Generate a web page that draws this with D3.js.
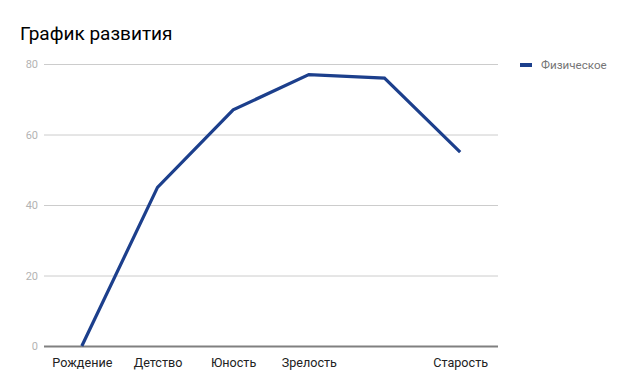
<!DOCTYPE html>
<html>
<head>
<meta charset="utf-8">
<script src="https://cdn.jsdelivr.net/npm/d3@7"></script>
<style>
  body { margin: 0; background: #fff; }
  text { font-family: Roboto, "Noto Sans", sans-serif; }
</style>
</head>
<body>
<div id="chart"></div>
<script>
var categories = ['Рождение', 'Детство', 'Юность', 'Зрелость', '', 'Старость'];
var physical = [0, 45, 67, 77, 76, 55];
var yTicks = [0, 20, 40, 60, 80];
var seriesName = 'Физическое';

var width = 628, height = 389;
// plot area (avoid "top", it clashes with window.top)
var plotLeft = 44, plotRight = 498, plotTop = 64, plotBottom = 346;

var svg = d3.select('#chart').append('svg')
    .attr('width', width).attr('height', height);

var x = d3.scalePoint()
    .domain(d3.range(categories.length))
    .range([plotLeft, plotRight])
    .padding(0.5);

var y = d3.scaleLinear()
    .domain([0, 80])
    .range([plotBottom, plotTop]);

// title
svg.append('text')
    .attr('x', 20).attr('y', 40)
    .attr('font-size', 19)
    .attr('fill', '#000')
    .text('График развития');

// gridlines + y labels
var yAxis = svg.append('g')
    .attr('transform', 'translate(' + plotLeft + ',0)')
    .call(d3.axisLeft(y).tickValues(yTicks).tickSize(-(plotRight - plotLeft)).tickPadding(6));
yAxis.select('.domain').remove();
yAxis.selectAll('line')
    .attr('stroke', function(d){ return d === 0 ? '#808080' : '#cccccc'; })
    .attr('stroke-width', function(d){ return d === 0 ? 2 : 1; });
yAxis.selectAll('text')
    .attr('fill', '#b3b3b3')
    .attr('font-size', 11)
    .style('font-family', 'Roboto, sans-serif');

// x labels
var xAxis = svg.append('g')
    .attr('transform', 'translate(0,' + plotBottom + ')')
    .call(d3.axisBottom(x).tickSize(0).tickPadding(12)
        .tickFormat(function(i){ return categories[i]; }));
xAxis.select('.domain').remove();
xAxis.selectAll('text')
    .attr('fill', '#222')
    .attr('font-size', 12.6)
    .style('font-family', 'Roboto, sans-serif');

// line
var line = d3.line()
    .x(function(d, i){ return x(i); })
    .y(function(d){ return y(d); });

svg.append('path')
    .datum(physical)
    .attr('fill', 'none')
    .attr('stroke', '#1c3f8c')
    .attr('stroke-width', 3.2)
    .attr('stroke-linejoin', 'miter')
    .attr('d', line);

// legend
var legend = svg.append('g').attr('transform', 'translate(520,65)');
legend.append('line')
    .attr('x1', 0).attr('x2', 12)
    .attr('stroke', '#1c3f8c').attr('stroke-width', 4);
legend.append('text')
    .attr('x', 21).attr('y', 4)
    .attr('font-size', 11.6)
    .attr('fill', '#757575')
    .text(seriesName);
</script>
</body>
</html>
